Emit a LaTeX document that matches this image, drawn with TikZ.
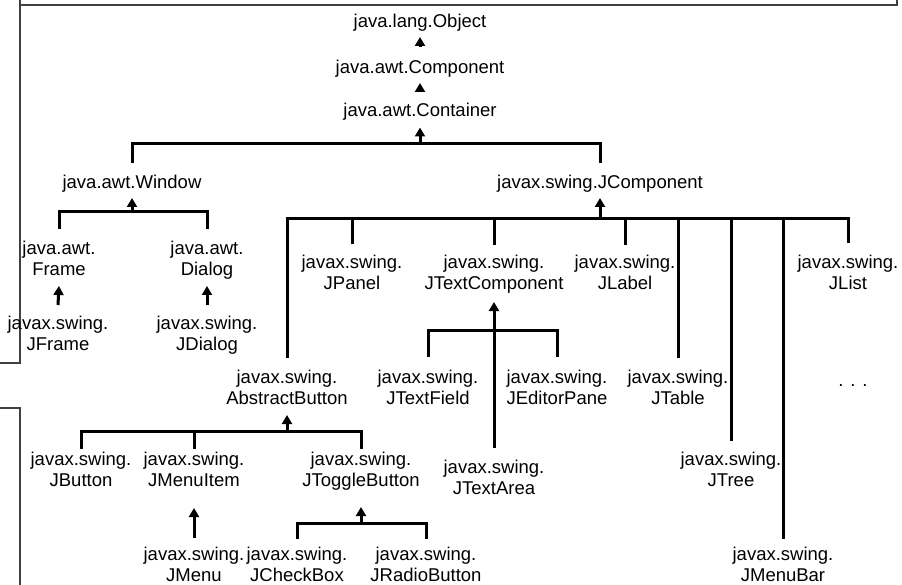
\documentclass[tikz,border=0pt]{standalone}
\usepackage{fontspec}
\setmainfont{Liberation Sans}
\usetikzlibrary{arrows.meta,calc}
\begin{document}
\begin{tikzpicture}[x=1pt,y=-1pt,
  cls/.style={inner sep=0pt,outer sep=0pt,align=center,font=\fontsize{18.5}{21}\selectfont},
  bar/.style={line width=3pt,line join=miter},
  arr/.style={line width=3pt,-{Triangle[width=10pt,length=9pt]}},
  frm/.style={line width=1.5pt,draw=black!75}]
\useasboundingbox (0,0) rectangle (902,585);
% frame fragments
\draw[frm] (20,5) -- (897,5) -- (897,0);
\draw[frm] (20,0) -- (20,363) -- (0,363);
\draw[frm] (0,408) -- (20,408) -- (20,585);
% nodes
\node[cls] (obj)   at (420,23)  {\strut java.lang.Object};
\node[cls] (comp)  at (420,69)  {\strut java.awt.Component};
\node[cls] (cont)  at (420,112) {\strut java.awt.Container};
\node[cls] (win)   at (132,184) {\strut java.awt.Window};
\node[cls] (jcomp) at (600,184) {\strut javax.swing.JComponent};
\node[cls] (frame)  at (59,260.5)  {\strut java.awt.\\\strut Frame};
\node[cls] (dialog) at (207,260.5) {\strut java.awt.\\\strut Dialog};
\node[cls] (jframe)  at (58,335.5)  {\strut javax.swing.\\\strut JFrame};
\node[cls] (jdialog) at (207,335.5) {\strut javax.swing.\\\strut JDialog};
\node[cls] (jpanel) at (352,275) {\strut javax.swing.\\\strut JPanel};
\node[cls] (jtc)    at (494,275) {\strut javax.swing.\\\strut JTextComponent};
\node[cls] (jlabel) at (625,275) {\strut javax.swing.\\\strut JLabel};
\node[cls] (jlist)  at (848,275) {\strut javax.swing.\\\strut JList};
\node[cls] (abs)    at (287,389.5) {\strut javax.swing.\\\strut AbstractButton};
\node[cls] (jtf)    at (428,389.5) {\strut javax.swing.\\\strut JTextField};
\node[cls] (jep)    at (557,389.5) {\strut javax.swing.\\\strut JEditorPane};
\node[cls] (jtable) at (678,389.5) {\strut javax.swing.\\\strut JTable};
\node[cls] (more)   at (853,382)   {\strut . . .};
\node[cls] (jbutton) at (81,472)  {\strut javax.swing.\\\strut JButton};
\node[cls] (jmi)     at (194,472) {\strut javax.swing.\\\strut JMenuItem};
\node[cls] (jtog)    at (361,472) {\strut javax.swing.\\\strut JToggleButton};
\node[cls] (jta)     at (494,479.5) {\strut javax.swing.\\\strut JTextArea};
\node[cls] (jtree)   at (731,472) {\strut javax.swing.\\\strut JTree};
\node[cls] (jmenu)   at (194,567) {\strut javax.swing.\\\strut JMenu};
\node[cls] (jcb)     at (297,567) {\strut javax.swing.\\\strut JCheckBox};
\node[cls] (jrb)     at (426,567) {\strut javax.swing.\\\strut JRadioButton};
\node[cls] (jmb)     at (783,567) {\strut javax.swing.\\\strut JMenuBar};
% simple arrows
\draw[arr] ($(comp.north)+(0,-11.5)$) -- ($(obj.south)+(0,3.5)$);
\draw[arr] ($(cont.north)+(0,-9.5)$) -- ($(comp.south)+(0,3.5)$);
% Container branch
\coordinate (bC) at ($(cont.south)+(0,21.5)$);
\draw[bar] ($(win.north)+(0,-10.5)$) |- (bC) -| ($(jcomp.north)+(0,-10.5)$);
\draw[arr] (bC) -- ($(cont.south)+(0,5)$);
% Window branch
\coordinate (bW) at ($(win.south)+(0,17.5)$);
\draw[bar] ($(frame.north)+(0,-10.5)$) |- (bW) -| ($(dialog.north)+(0,-10.5)$);
\draw[arr] (bW) -- ($(win.south)+(0,3.5)$);
\draw[arr] ($(jframe.north)+(0,-9.5)$) -- ($(frame.south)+(0,4.5)$);
\draw[arr] ($(jdialog.north)+(0,-9.5)$) -- ($(dialog.south)+(0,4.5)$);
% JComponent branch
\coordinate (bJ) at ($(jcomp.south)+(0,24.5)$);
\draw[bar] ($(abs.north)+(0,-10.5)$) |- (bJ) -| ($(jlist.north)+(0,-10.5)$);
\draw[arr] (bJ) -- ($(jcomp.south)+(0,3.5)$);
\draw[bar] ($(jpanel.north)+(0,-10)$) -- (jpanel.north |- bJ);
\draw[bar] ($(jtc.north)+(0,-9)$) -- (jtc.north |- bJ);
\draw[bar] ($(jlabel.north)+(0,-9)$) -- (jlabel.north |- bJ);
\draw[bar] ($(jtable.north)+(0,-10.5)$) -- (jtable.north |- bJ);
\draw[bar] ($(jtree.north)+(0,-10)$) -- (jtree.north |- bJ);
\draw[bar] ($(jmb.north)+(0,-7.5)$) -- (jmb.north |- bJ);
% JTextComponent branch
\coordinate (bT) at ($(jtc.south)+(0,34)$);
\draw[bar] ($(jtf.north)+(0,-12)$) |- (bT) -| ($(jep.north)+(0,-12)$);
\draw[arr] ($(jta.north)+(0,-10.5)$) -- ($(jtc.south)+(0,6)$);
% AbstractButton branch
\coordinate (bA) at ($(abs.south)+(0,20.5)$);
\draw[bar] ($(jbutton.north)+(0,-2)$) |- (bA) -| ($(jtog.north)+(0,-2)$);
\draw[bar] ($(jmi.north)+(0,-2)$) -- (jmi.north |- bA);
\draw[arr] (bA) -- ($(abs.south)+(0,4.5)$);
\draw[arr] ($(jmenu.north)+(0,-8)$) -- ($(jmi.south)+(0,15)$);
% JToggleButton branch
\coordinate (bG) at ($(jtog.south)+(0,30)$);
\draw[bar] ($(jcb.north)+(0,-7)$) |- (bG) -| ($(jrb.north)+(0,-7)$);
\draw[arr] (bG) -- ($(jtog.south)+(0,14)$);
\end{tikzpicture}
\end{document}
